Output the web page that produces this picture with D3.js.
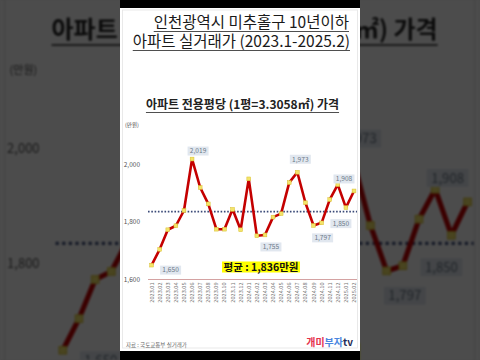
<!DOCTYPE html>
<html>
<head>
<meta charset="utf-8">
<script src="https://cdn.jsdelivr.net/npm/d3@7"></script>
<style>
  body { margin: 0; background: #000; }
  #wrap { position: relative; width: 480px; height: 360px; overflow: hidden; background: #4a4a4a; }
  svg { position: absolute; left: 0; top: 0; }
  #bg { filter: blur(1.2px) brightness(0.3); }
  text { font-family: "Noto Sans CJK KR", "Noto Sans", sans-serif; }
</style>
</head>
<body>
<div id="wrap">
  <svg id="bg" width="480" height="360"></svg>
  <svg id="fg" width="480" height="360"></svg>
</div>
<script>
const months = ["2023.01","2023.02","2023.03","2023.04","2023.05","2023.06","2023.07","2023.08",
  "2023.09","2023.10","2023.11","2023.12","2024.01","2024.02","2024.03","2024.04","2024.05",
  "2024.06","2024.07","2024.08","2024.09","2024.10","2024.11","2024.12","2025.01","2025.02"];
const prices = [1650, 1705, 1773, 1787, 1840, 2019, 1920, 1863, 1775, 1775, 1844, 1773, 1950,
  1752, 1755, 1817, 1829, 1937, 1973, 1867, 1788, 1797, 1878, 1930, 1850, 1908];
const avgPrice = 1836;
const yTicks = [1600, 1800, 2000];
const labelIdx = [0, 5, 14, 18, 21, 24, 25];

const title1 = "인천광역시 미추홀구 10년이하";
const title2 = "아파트 실거래가 (2023.1-2025.2)";
const subTitle = "아파트 전용평당 (1평=3.3058㎡) 가격";
const unitText = "(만원)";
const avgText = "평균 : 1,836만원";
const sourceText = "자료 : 국토교통부 실거래가";

const fmt = d3.format(",");

// where each value box sits relative to its point
const labelPos = {0: [19, 5], 5: [6, -8], 14: [6, 12], 18: [3, -13], 21: [1, 15], 24: [-5, 16], 25: [-10, -12]};

const x = d3.scalePoint().domain(months).range([151.6, 354]);
const y = d3.scaleLinear().domain([1600, 2000]).range([279.5, 164.5]);

function underline(g, t, yy) {
  const b = t.node().getBBox();
  g.append("line")
    .attr("x1", b.x).attr("x2", b.x + b.width)
    .attr("y1", yy).attr("y2", yy)
    .attr("stroke", "#222").attr("stroke-width", 0.8);
}

function drawPanel(g) {
  g.append("rect")
    .attr("x", 120).attr("y", 8).attr("width", 240).attr("height", 343)
    .attr("fill", "#fff");
  g.append("rect")
    .attr("x", 122.5).attr("y", 10).attr("width", 235).attr("height", 338)
    .attr("fill", "none").attr("stroke", "#e4e4e4").attr("stroke-width", 0.8);

  // titles
  const t1 = g.append("text").attr("x", 349).attr("y", 28)
    .attr("text-anchor", "end").attr("font-size", 15.5).attr("fill", "#1a1a1a").text(title1);
  underline(g, t1, 31.5);
  const t2 = g.append("text").attr("x", 350).attr("y", 47)
    .attr("text-anchor", "end").attr("font-size", 15.5).attr("fill", "#1a1a1a").text(title2);
  underline(g, t2, 50.5);

  const st = g.append("text").attr("x", 242.5).attr("y", 109)
    .attr("text-anchor", "middle").attr("font-size", 12).attr("font-weight", "bold")
    .attr("fill", "#222").text(subTitle);
  underline(g, st, 112.5);

  g.append("text").attr("x", 125).attr("y", 127)
    .attr("font-size", 5.5).attr("fill", "#444").text(unitText);

  // y tick labels
  g.selectAll(".ytick").data(yTicks).join("text")
    .attr("class", "ytick")
    .attr("x", 140).attr("y", d => y(d) + 2)
    .attr("text-anchor", "end").attr("font-size", 6.5).attr("fill", "#555")
    .text(d => fmt(d));

  // x axis line
  g.append("line")
    .attr("x1", 148).attr("x2", 357)
    .attr("y1", y(1600)).attr("y2", y(1600))
    .attr("stroke", "#c98a8a").attr("stroke-width", 0.8);

  g.selectAll(".xtick").data(months).join("text")
    .attr("class", "xtick")
    .attr("transform", d => `translate(${x(d) + 2},${y(1600) + 3}) rotate(-90)`)
    .attr("text-anchor", "end").attr("font-size", 5.6).attr("fill", "#777")
    .text(d => d);

  // mean line
  g.append("line")
    .attr("x1", 148).attr("x2", 357)
    .attr("y1", y(avgPrice)).attr("y2", y(avgPrice))
    .attr("stroke", "#3b4a78").attr("stroke-width", 1.6)
    .attr("stroke-dasharray", "1.6,1.7");

  // series
  const line = d3.line().x((d, i) => x(months[i])).y(d => y(d));
  g.append("path").datum(prices)
    .attr("d", line)
    .attr("fill", "none").attr("stroke", "#c40000")
    .attr("stroke-width", 2.6).attr("stroke-linejoin", "round");

  g.selectAll(".mk").data(prices).join("rect")
    .attr("class", "mk")
    .attr("x", (d, i) => x(months[i]) - 1.9).attr("y", d => y(d) - 1.9)
    .attr("width", 3.8).attr("height", 3.8)
    .attr("fill", "#f3e46a").attr("stroke", "#d9c030").attr("stroke-width", 0.5);

  // value boxes
  const lb = g.selectAll(".lb").data(labelIdx).join("g")
    .attr("class", "lb")
    .attr("transform", i => `translate(${x(months[i]) + labelPos[i][0]},${y(prices[i]) + labelPos[i][1]})`);
  lb.append("rect")
    .attr("x", -10.5).attr("y", -4.5).attr("width", 21).attr("height", 9)
    .attr("fill", "#e1e7ef");
  lb.append("text")
    .attr("y", 2.3).attr("text-anchor", "middle")
    .attr("font-size", 6.6).attr("fill", "#6b7886")
    .text(i => fmt(prices[i]));

  // average callout
  g.append("rect")
    .attr("x", 222).attr("y", 261.5).attr("width", 78).attr("height", 11)
    .attr("fill", "#ffff00");
  g.append("text").attr("x", 261).attr("y", 270.8)
    .attr("text-anchor", "middle").attr("font-size", 10.5).attr("font-weight", "bold")
    .attr("fill", "#111").text(avgText);

  // footer
  g.append("text").attr("x", 126).attr("y", 347)
    .attr("font-size", 5.5).attr("fill", "#666").text(sourceText);
  const logo = g.append("text").attr("x", 353).attr("y", 346)
    .attr("text-anchor", "end").attr("font-size", 10).attr("font-weight", "bold");
  logo.append("tspan").attr("fill", "#e5334b").text("개미");
  logo.append("tspan").attr("fill", "#4a86e0").text("부자");
  logo.append("tspan").attr("fill", "#1d2a55").text("tv");
}

// blurred, enlarged copy behind
const bg = d3.select("#bg").append("g")
  .attr("transform", "translate(-240.4,-180) scale(2)");
drawPanel(bg);

const fg = d3.select("#fg");
fg.append("rect").attr("x", 120).attr("y", 0).attr("width", 240).attr("height", 360).attr("fill", "#000");
drawPanel(fg.append("g"));
</script>
</body>
</html>
